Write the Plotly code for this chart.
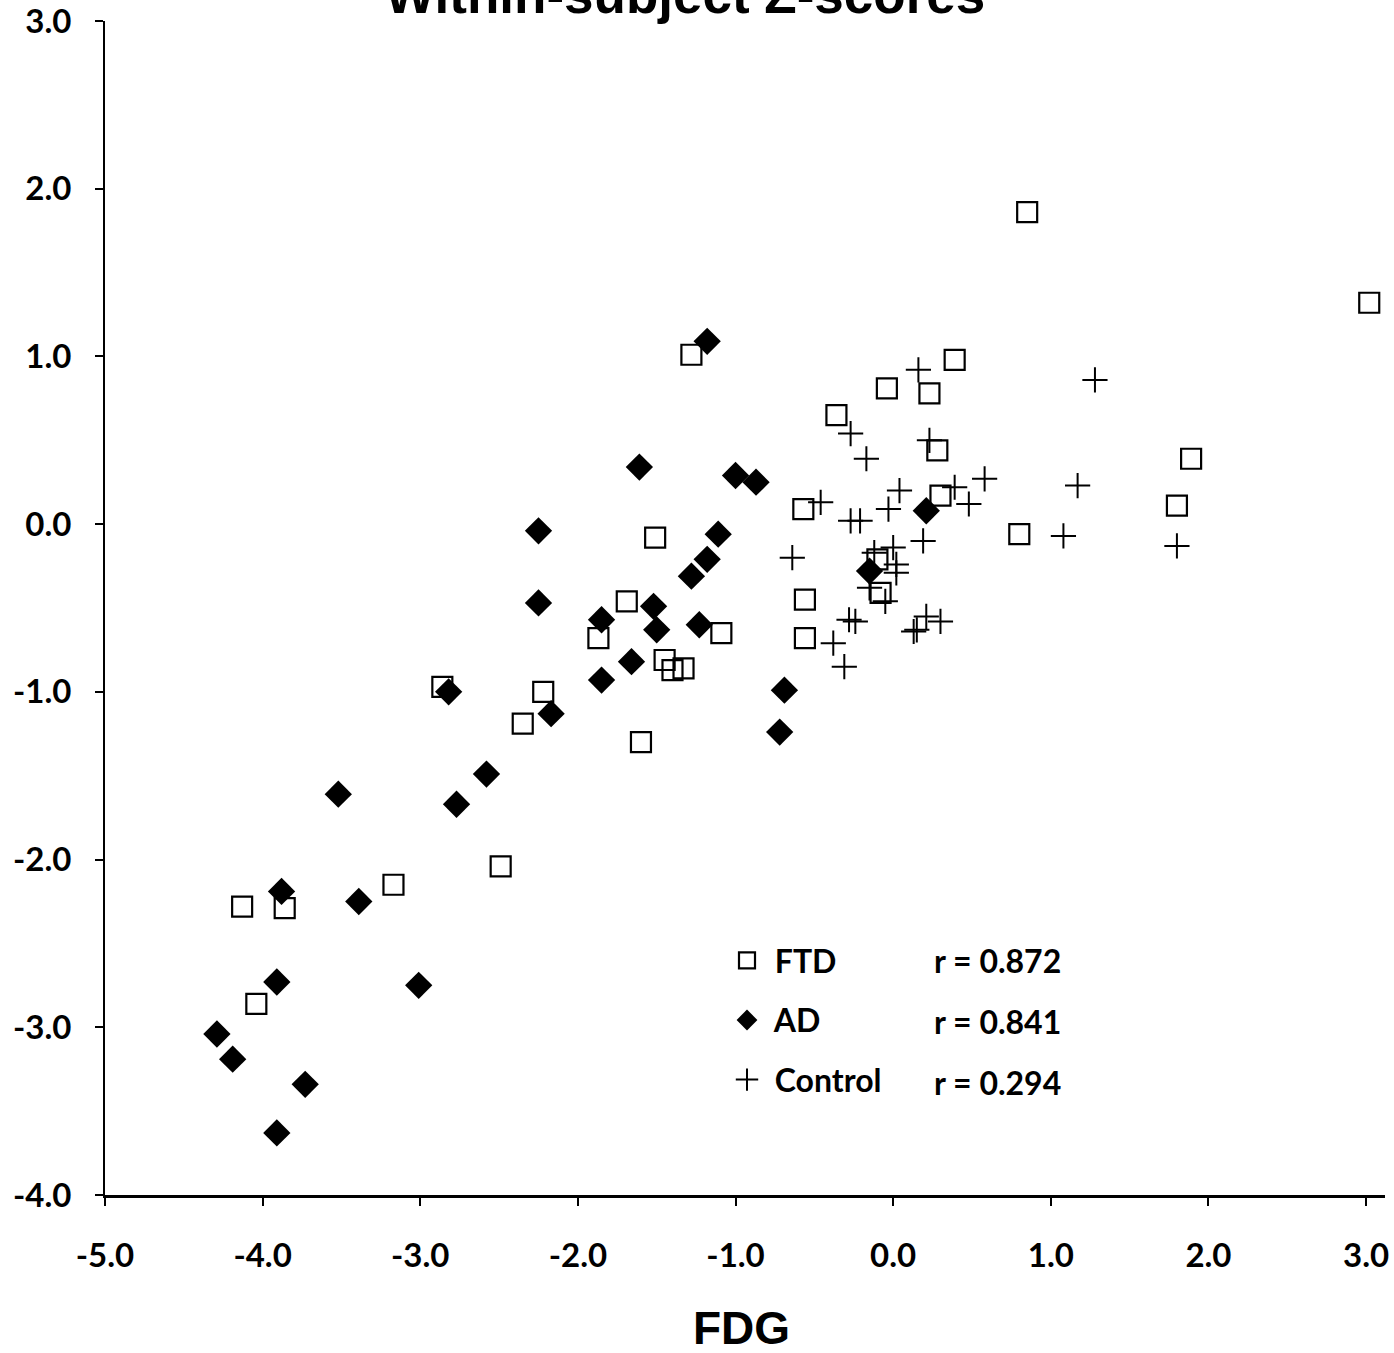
import plotly.graph_objects as go

# ---- data ----
ftd_x = [0.85, 3.02, -1.28, 0.39, -0.04, 0.23, -0.36, 0.28, 1.89, 1.80, 0.30, -0.57, -1.51, 0.80,
         -0.10, -0.08, -1.69, -0.56, -1.87, -1.09, -0.56, -1.45, -1.40, -1.33, -2.86, -2.22, -2.35,
         -1.60, -2.49, -3.17, -4.13, -3.86, -4.04]
ftd_y = [1.86, 1.32, 1.01, 0.98, 0.81, 0.78, 0.65, 0.44, 0.39, 0.11, 0.17, 0.09, -0.08, -0.06,
         -0.21, -0.41, -0.46, -0.45, -0.68, -0.65, -0.68, -0.81, -0.87, -0.86, -0.97, -1.00, -1.19,
         -1.30, -2.04, -2.15, -2.28, -2.29, -2.86]

ad_x = [-1.18, -1.61, -1.00, -0.87, 0.21, -2.25, -1.11, -1.18, -1.28, -0.15, -2.25, -1.52, -1.85,
        -1.23, -1.50, -1.66, -1.85, -2.82, -0.69, -2.17, -0.72, -2.58, -3.52, -2.77, -3.88, -3.39,
        -3.91, -3.01, -4.29, -4.19, -3.73, -3.91]
ad_y = [1.09, 0.34, 0.29, 0.25, 0.08, -0.04, -0.06, -0.21, -0.31, -0.28, -0.47, -0.49, -0.57,
        -0.60, -0.63, -0.82, -0.93, -1.00, -0.99, -1.13, -1.24, -1.49, -1.61, -1.67, -2.19, -2.25,
        -2.73, -2.75, -3.04, -3.19, -3.34, -3.63]

ctl_x = [1.28, 0.16, -0.27, -0.17, 0.23, 0.58, 0.39, 0.04, -0.46, -0.03, 0.48, 1.17, -0.27, -0.21,
         0.19, 1.08, 1.80, -0.64, 0.00, -0.12, 0.02, 0.02, -0.15, -0.05, -0.28, -0.24, 0.21, 0.30,
         0.15, 0.13, -0.38, -0.31]
ctl_y = [0.86, 0.92, 0.54, 0.39, 0.50, 0.27, 0.22, 0.20, 0.13, 0.09, 0.12, 0.23, 0.02, 0.02,
         -0.10, -0.07, -0.13, -0.20, -0.14, -0.17, -0.24, -0.29, -0.38, -0.46, -0.57, -0.58, -0.55,
         -0.58, -0.63, -0.64, -0.71, -0.85]

group_names = [" FTD", " AD", " Control"]
r_labels = ["r = 0.872", "r = 0.841", "r = 0.294"]
tick_vals_x = [-5, -4, -3, -2, -1, 0, 1, 2, 3]
tick_text_x = ["-5.0", "-4.0", "-3.0", "-2.0", "-1.0", "0.0", "1.0", "2.0", "3.0"]
tick_vals_y = [-4, -3, -2, -1, 0, 1, 2, 3]
tick_text_y = ["-4.0", "-3.0", "-2.0", "-1.0", "0.0", "1.0", "2.0", "3.0"]

# body margin is removed by post_script, so the figure sits at the page origin
W, H = 1394, 1353
L = 105
R = W - 1385
T = 20.5
B = H - 1195
pw, ph = W - L - R, H - T - B


def px2paper_x(sx):
    return (sx - L) / pw


def py2paper_y(sy):
    return (H - B - sy) / ph


fig = go.Figure()
fig.add_trace(go.Scatter(
    x=ftd_x, y=ftd_y, mode="markers", name=group_names[0], legendgroup="g1",
    marker=dict(symbol="square-open", size=20, color="black", line=dict(width=2.2, color="black"))))
fig.add_trace(go.Scatter(
    x=ad_x, y=ad_y, mode="markers", name=group_names[1], legendgroup="g2",
    marker=dict(symbol="diamond", size=21, color="black", line=dict(width=0))))
fig.add_trace(go.Scatter(
    x=ctl_x, y=ctl_y, mode="markers", name=group_names[2], legendgroup="g3",
    marker=dict(symbol="cross-thin-open", size=18, color="black", line=dict(width=2, color="black"))))

axis_common = dict(
    showline=True, linecolor="black", ticks="outside", ticklen=8, tickwidth=2,
    tickcolor="black", showgrid=False, zeroline=False, ticklabeloverflow="allow",
    tickfont=dict(family="Lato, Open Sans, sans-serif", size=33, color="black", weight="bold"),
)

fig.update_layout(
    width=W, height=H,
    margin=dict(l=L, r=R, t=T, b=B, autoexpand=False),
    paper_bgcolor="white", plot_bgcolor="white",
    xaxis=dict(range=[-5, 3.12], tickvals=tick_vals_x, ticktext=tick_text_x, linewidth=3,
               ticklabelstandoff=21, **axis_common),
    yaxis=dict(range=[-4, 3], tickvals=tick_vals_y, ticktext=tick_text_y, linewidth=2,
               ticklabelstandoff=17, **axis_common),
    showlegend=True,
    legend=dict(
        x=px2paper_x(727), y=py2paper_y(933), xanchor="left", yanchor="top",
        bgcolor="rgba(0,0,0,0)", borderwidth=0, tracegroupgap=15,
        font=dict(family="Lato, Open Sans, sans-serif", size=32, color="black", weight="bold"),
        itemsizing="trace",
    ),
)

annotations = []
for lab, sy in zip(r_labels, [960, 1021, 1082]):
    annotations.append(dict(
        text=lab, xref="paper", yref="paper", x=px2paper_x(932), y=py2paper_y(sy),
        xanchor="left", yanchor="middle", showarrow=False,
        font=dict(family="Lato, Open Sans, sans-serif", size=32, color="black", weight="bold")))

annotations.append(dict(
    text="FDG", xref="paper", yref="paper", x=px2paper_x(741), y=py2paper_y(1328),
    xanchor="center", yanchor="middle", showarrow=False,
    font=dict(family="Liberation Sans, Arial", size=46, color="black", weight="bold")))

annotations.append(dict(
    text="Within-subject Z-scores", xref="paper", yref="paper", x=px2paper_x(685), y=py2paper_y(-6),
    xanchor="center", yanchor="middle", showarrow=False,
    font=dict(family="Liberation Sans, Arial", size=53, color="black", weight="bold")))

fig.update_layout(annotations=annotations)

fig.write_html(
    "out.html",
    config={"displayModeBar": False},
    post_script="document.body.style.margin='0';document.body.style.overflow='hidden';",
)
